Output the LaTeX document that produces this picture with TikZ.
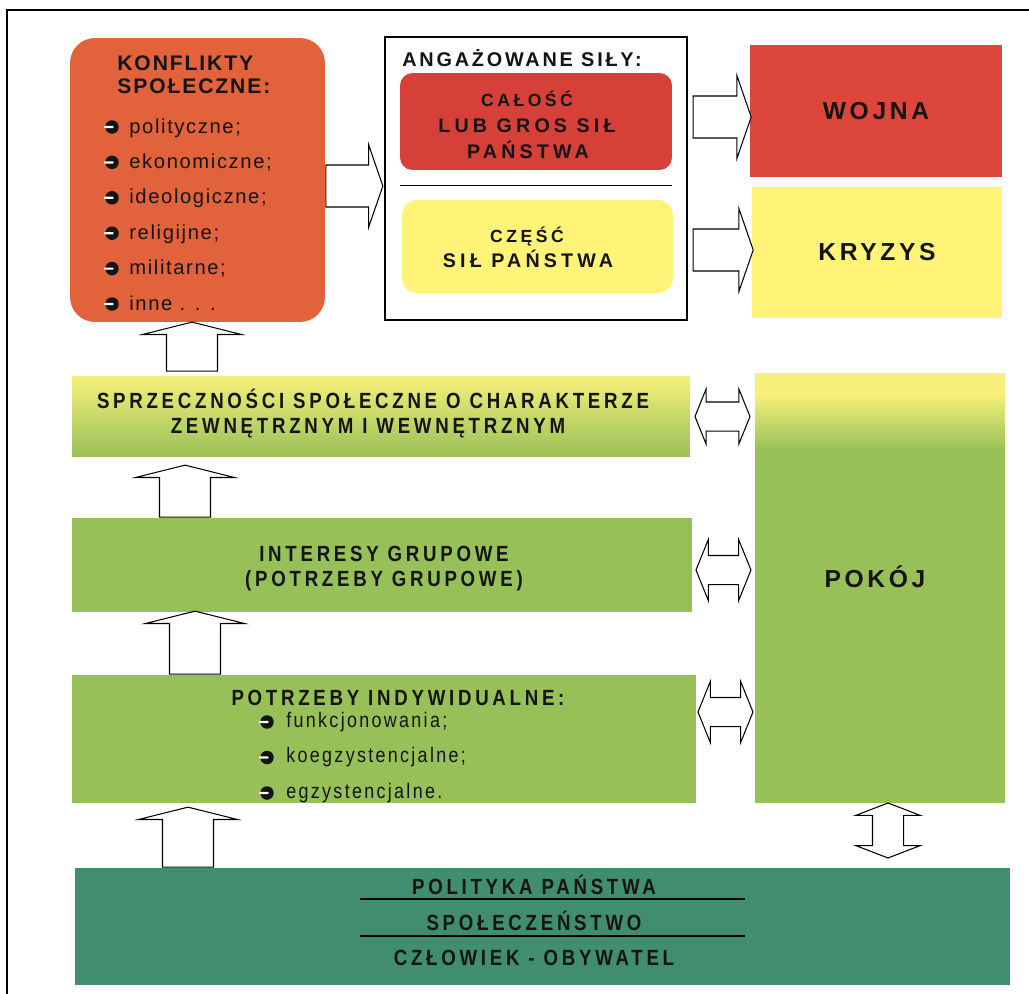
\documentclass[tikz,border=0pt]{standalone}
\usepackage{fontspec}
\setmainfont{Liberation Sans}
\newfontfamily\narrowfont[FakeStretch=0.85]{Liberation Sans}
\usepackage{tikz}
\usetikzlibrary{shapes.arrows,calc}

\definecolor{ink}{HTML}{141414}
\definecolor{konfl}{HTML}{E2623C}
\definecolor{calred}{HTML}{D64038}
\definecolor{wojred}{HTML}{DD463A}
\definecolor{yel}{HTML}{FFF478}
\definecolor{sprzyel}{HTML}{F6F07A}
\definecolor{grn}{HTML}{98C058}
\definecolor{polteal}{HTML}{408E6E}

\pgfdeclareverticalshading{pokojshade}{100bp}{color(0bp)=(grn); color(66bp)=(grn); color(72.5bp)=(sprzyel); color(100bp)=(sprzyel)}
\newcommand\etcdots{. . .}

\begin{document}
\begin{tikzpicture}[x=0.02cm, y=-0.02cm]
        \tikzstyle{every node}=[inner sep=0pt, text=ink]
        \tikzstyle{box}=[rectangle]
        \tikzstyle{capsmid}=[font=\fontsize{12}{14}\selectfont\bfseries\addfontfeature{LetterSpace=9}]
        \tikzstyle{capsang}=[font=\fontsize{11.3}{13}\selectfont\bfseries\addfontfeature{LetterSpace=14}]
        \tikzstyle{capssmall}=[font=\fontsize{10}{12}\selectfont\bfseries\addfontfeature{LetterSpace=20}]
        \tikzstyle{capsin}=[font=\fontsize{11.2}{13}\selectfont\bfseries\addfontfeature{LetterSpace=21}]
        \tikzstyle{capsbig}=[font=\fontsize{14}{16}\selectfont\bfseries\addfontfeature{LetterSpace=15}]
        \tikzstyle{caplow}=[font=\narrowfont\fontsize{12.5}{14}\selectfont\bfseries\addfontfeature{LetterSpace=17}]
        \tikzstyle{itemup}=[anchor=base west, font=\fontsize{11.5}{13}\selectfont\addfontfeature{LetterSpace=8}]
        \tikzstyle{itemlow}=[anchor=base west, font=\narrowfont\fontsize{12}{14}\selectfont\addfontfeature{LetterSpace=11}]
        \tikzstyle{fatarrow}=[draw, fill=white, line width=0.6pt, single arrow, inner ysep=0.41cm, single arrow head extend=0.41cm, single arrow tip angle=142]
        \tikzstyle{uparrow}=[fatarrow, rotate=90, inner ysep=0.5cm, single arrow head extend=0.48cm, single arrow tip angle=152]
        \tikzstyle{twoway}=[draw, fill=white, line width=0.6pt, double arrow, inner ysep=0.28cm, double arrow head extend=0.32cm, double arrow tip angle=136, minimum height=1.1cm]
        \tikzset{bullet/.pic={\fill[ink] (0,0) circle (0.135cm); \fill[white, rounded corners=0.015cm] (-8,-1.1) rectangle (1.5,1.1);}}

        \useasboundingbox[fill=white] (0,0) rectangle (1029,994);
        \draw[line width=0.8pt] (7,994) -- (7,10) -- (1029,10);

        % conflicts
        \node[box, fill=konfl, rounded corners=0.5cm, minimum width=5.1cm, minimum height=5.68cm] (konflikty) at (197.5,180) {};
        \node[capsmid, anchor=base west] (konf1) at (117,70) {KONFLIKTY};
        \node[capsmid, anchor=base west] (konf2) at (117,93) {SPOŁECZNE:};
        \foreach \txt [count=\i] in {polityczne;, ekonomiczne;, ideologiczne;, religijne;, militarne;, inne \etcdots} {
            \pic at (112,{127+35.4*(\i-1)}) {bullet};
            \node[itemup] (kitem\i) at (129,{133+35.4*(\i-1)}) {\txt};
        }

        % forces
        \node[box, draw, line width=0.8pt, minimum width=6.04cm, minimum height=5.66cm] (sily) at (536,178.5) {};
        \node[capsang, anchor=base west] (silytxt) at (402,66) {ANGAŻOWANE SIŁY:};
        \node[box, fill=calred, rounded corners=0.25cm, minimum width=5.44cm, minimum height=1.94cm] (calosc) at (536,121.5) {};
        \node[capssmall, anchor=base] (calosc1) at (527,106) {CAŁOŚĆ};
        \node[capsin, anchor=base] (calosc2) at (527,132) {LUB GROS SIŁ};
        \node[capsin, anchor=base] (calosc3) at (528,158) {PAŃSTWA};
        \draw[line width=0.6pt] ([yshift=-0.3cm]calosc.south west) -- ([yshift=-0.3cm]calosc.south east);
        \node[box, fill=yel, rounded corners=0.3cm, minimum width=5.42cm, minimum height=1.86cm] (czesc) at (537.5,246.5) {};
        \node[capssmall, anchor=base] (czesc1) at (527,242) {CZĘŚĆ};
        \node[capsin, anchor=base] (czesc2) at (528,267) {SIŁ PAŃSTWA};

        \node[box, fill=wojred, minimum width=5.04cm, minimum height=2.64cm, capsbig] (wojna) at (876,111) {WOJNA};
        \node[box, fill=yel, minimum width=5cm, minimum height=2.62cm, capsbig] (kryzys) at (877,252.5) {KRYZYS};

        % lower levels
        \node[box, top color=sprzyel, bottom color=grn, minimum width=12.36cm, minimum height=1.62cm] (sprz) at (381,416.5) {};
        \node[caplow, anchor=base] (sprz1) at (373,408) {SPRZECZNOŚCI SPOŁECZNE O CHARAKTERZE};
        \node[caplow, anchor=base] (sprz2) at (368,433) {ZEWNĘTRZNYM I WEWNĘTRZNYM};

        \node[box, fill=grn, minimum width=12.4cm, minimum height=1.88cm] (interesy) at (382,565) {};
        \node[caplow, anchor=base] (inter1) at (384,561) {INTERESY GRUPOWE};
        \node[caplow, anchor=base] (inter2) at (384,586) {(POTRZEBY GRUPOWE)};

        \node[box, fill=grn, minimum width=12.48cm, minimum height=2.56cm] (potrzeby) at (384,739) {};
        \node[caplow, anchor=base] (potrz0) at (398,705) {POTRZEBY INDYWIDUALNE:};
        \foreach \txt [count=\i] in {funkcjonowania;, koegzystencjalne;, egzystencjalne.} {
            \pic at (267,{722+35.5*(\i-1)}) {bullet};
            \node[itemlow] (pitem\i) at (286,{727+35.5*(\i-1)}) {\txt};
        }

        \node[box, shading=pokojshade, minimum width=5cm, minimum height=8.6cm] (pokoj) at (880,588) {};
        \node[capsbig, anchor=base] (pokojtxt) at (875,587) {POKÓJ};

        \node[box, fill=polteal, minimum width=18.7cm, minimum height=2.34cm] (polityka) at (542.5,926.5) {};
        \node[caplow, anchor=base] (pol1) at (534,894) {POLITYKA PAŃSTWA};
        \draw[line width=0.6pt] (360,899) -- (745,899);
        \node[caplow, anchor=base] (pol2) at (534,930) {SPOŁECZEŃSTWO};
        \draw[line width=0.6pt] (360,936) -- (745,936);
        \node[caplow, anchor=base] (pol3) at (534,965) {CZŁOWIEK - OBYWATEL};

        % block arrows
        \node[fatarrow, minimum height=1.14cm, anchor=tail] (a1) at ($(konflikty.east)+(0,6)$) {};
        \node[fatarrow, minimum height=1.16cm, anchor=tail] (a2) at ($(sily.east |- wojna.west)+(5,6)$) {};
        \node[fatarrow, minimum height=1.2cm, anchor=tail] (a3) at ($(sily.east |- kryzys.west)+(5,-2.5)$) {};

        \node[uparrow, minimum height=0.98cm, anchor=tail] (u1) at ($(sprz.north)+(-189,-4)$) {};
        \node[uparrow, minimum height=1.04cm, anchor=tail] (u2) at ($(interesy.north)+(-197,0)$) {};
        \node[uparrow, minimum height=1.26cm, anchor=tail] (u3) at ($(potrzeby.north)+(-189,0)$) {};
        \node[uparrow, minimum height=1.2cm, anchor=tail] (u4) at ($(polityka.north)+(-354.5,0)$) {};

        \node[twoway, double arrow head extend=0.26cm] (d1) at ($(sprz.east)!.5!(sprz.east -| pokoj.west)$) {};
        \node[twoway] (d2) at ($(interesy.east)!.5!(interesy.east -| pokoj.west)+(0,5)$) {};
        \node[twoway] (d3) at ($(potrzeby.east)!.5!(potrzeby.east -| pokoj.west)+(0,-27)$) {};
        \node[twoway, rotate=90, inner ysep=0.3cm, double arrow head extend=0.33cm, double arrow tip angle=138] (d4) at ($(pokoj.south)!.5!(pokoj.south |- polityka.north)+(8,-5)$) {};

    \end{tikzpicture}
\end{document}
